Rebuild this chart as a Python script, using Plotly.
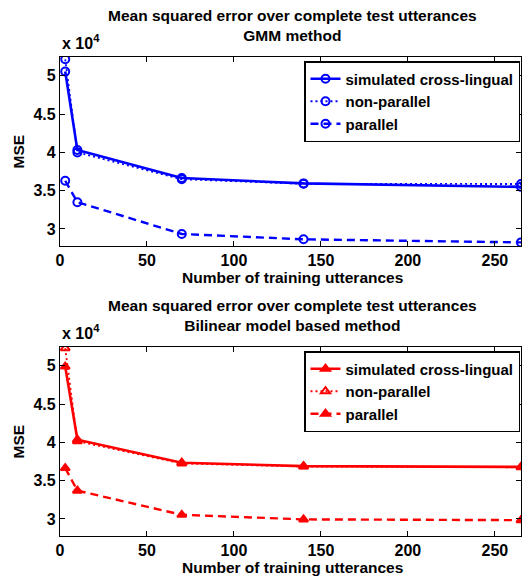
import plotly.graph_objects as go
from plotly.subplots import make_subplots

# ---- data ----
x_utt = [3, 10, 70, 140, 265]

gmm_cross = [50550, 40300, 36650, 35950, 35500]
gmm_nonpar = [52150, 40000, 36500, 35900, 35870]
gmm_par = [36300, 33500, 29350, 28650, 28250]

bil_cross = [49900, 40350, 37350, 36900, 36800]
bil_nonpar = [52300, 40150, 37250, 36850, 36750]
bil_par = [36650, 33700, 30550, 29950, 29850]

series_names = ["simulated cross-lingual", "non-parallel", "parallel"]
x_ticks = [0, 50, 100, 150, 200, 250]
y_tickvals = [30000, 35000, 40000, 45000, 50000]
y_ticktext = ["3", "3.5", "4", "4.5", "5"]

titles = [
    "Mean squared error over complete test utterances<br>GMM method",
    "Mean squared error over complete test utterances<br>Bilinear model based method",
]

FONT = "Liberation Sans, Arial, sans-serif"
W, H = 523, 576
ML, MR, MT, MB = 60, 2, 57, 40
plot_h = H - MT - MB  # 479
sub_h = 189
gap = plot_h - 2 * sub_h

fig = make_subplots(rows=2, cols=1, vertical_spacing=gap / plot_h)

def py(pix):  # pixel y -> paper y
    return (H - MB - pix) / plot_h

def px(pix):
    return (pix - ML) / (W - ML - MR)

blue = "rgb(0,0,255)"
red = "rgb(255,0,0)"

def add_group(row, ys, color, symbols, legend):
    styles = [("solid", 2.6), ("2px,3px", 1.8), ("8px,5px", 2.4)]
    for name, y, sym, (dash, lw) in zip(series_names, ys, symbols, styles):
        fig.add_trace(
            go.Scatter(
                x=x_utt, y=y, name=name, mode="lines+markers",
                line=dict(color=color, width=lw, dash=dash),
                marker=dict(symbol=sym, size=8, color=color,
                            line=dict(color=color, width=2)),
                legend=legend, cliponaxis=True,
            ),
            row=row, col=1,
        )

add_group(1, [gmm_cross, gmm_nonpar, gmm_par], blue,
          ["circle-open", "circle-open", "circle-open"], "legend")
add_group(2, [bil_cross, bil_nonpar, bil_par], red,
          ["triangle-up", "triangle-up-open", "triangle-up"], "legend2")

axis_common = dict(
    showline=True, linecolor="black", linewidth=1.2, mirror="ticks",
    ticks="inside", ticklen=5, tickcolor="black", showgrid=False, zeroline=False,
    tickfont=dict(family=FONT, size=16, color="black", weight="bold"),
)
for r in (1, 2):
    fig.update_xaxes(range=[0, 265], tickvals=x_ticks, row=r, col=1, **axis_common)
    fig.update_yaxes(range=[27780, 52450], tickvals=y_tickvals, ticktext=y_ticktext,
                     row=r, col=1, **axis_common)

legend_common = dict(
    xanchor="right", yanchor="top", bgcolor="white",
    bordercolor="black", borderwidth=1.5,
    font=dict(family=FONT, size=15, color="black", weight="bold"),
    tracegroupgap=0, itemwidth=30,
)
fig.update_layout(
    legend=dict(x=px(520), y=py(61), **legend_common),
    legend2=dict(x=px(520), y=py(351), **legend_common),
)

ann_font = dict(family=FONT, size=15.5, color="black", weight="bold")
annotations = []
tops = [57, 347]
for i, top in enumerate(tops):
    annotations.append(dict(text=titles[i], x=px(292), y=py(top - 11), xref="paper", yref="paper",
                            xanchor="center", yanchor="bottom", showarrow=False, font=ann_font))
    annotations.append(dict(text="x 10<sup>4</sup>", x=0, y=py(top - 3), xref="paper", yref="paper",
                            xanchor="left", yanchor="bottom", showarrow=False,
                            font=dict(family=FONT, size=16, color="black", weight="bold")))
    annotations.append(dict(text="MSE", x=px(18), y=py(top + sub_h / 2), xref="paper", yref="paper",
                            xanchor="center", yanchor="middle", textangle=-90, showarrow=False,
                            font=ann_font))
    annotations.append(dict(text="Number of training utterances", x=px(292), y=py(top + sub_h + 31),
                            xref="paper", yref="paper", xanchor="center", yanchor="middle",
                            showarrow=False, font=ann_font))

fig.update_layout(
    width=W, height=H,
    margin=dict(l=ML, r=MR, t=MT, b=MB),
    paper_bgcolor="white", plot_bgcolor="white",
    annotations=annotations,
    showlegend=True,
)

fig.write_html(
    "out.html",
    config={"displayModeBar": False},
    post_script="document.body.style.margin='0';document.body.style.overflow='hidden';",
)
